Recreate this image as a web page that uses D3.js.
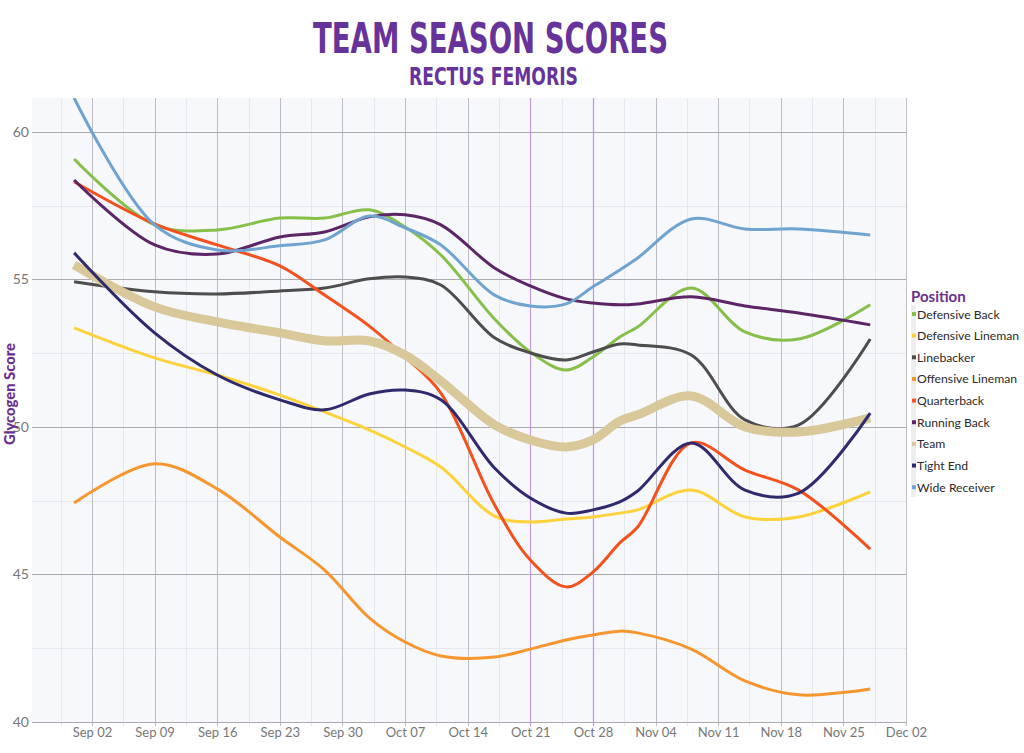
<!DOCTYPE html>
<html>
<head>
<meta charset="utf-8">
<script src="https://cdn.jsdelivr.net/npm/d3@7"></script>
<style>
  html, body { margin: 0; padding: 0; background: #ffffff; }
  svg { display: block; }
</style>
</head>
<body>
<svg id="chart" width="1024" height="753"></svg>
<script>
// ---------------- DATA ----------------
const dates = ["2024-08-31","2024-09-09","2024-09-16","2024-09-23","2024-09-28","2024-10-03",
  "2024-10-07","2024-10-11","2024-10-17","2024-10-21","2024-10-25","2024-10-28","2024-10-31",
  "2024-11-02","2024-11-08","2024-11-14","2024-11-20","2024-11-28"];

const positions = ["Defensive Back","Defensive Lineman","Linebacker","Offensive Lineman",
  "Quarterback","Running Back","Team","Tight End","Wide Receiver"];

const defensiveBack     = [59.08,56.85,56.68,57.08,57.08,57.36,56.78,55.83,53.66,52.54,51.93,52.37,53.05,53.39,54.71,53.22,52.98,54.14];
const defensiveLineman  = [53.36,52.34,51.76,51.08,50.51,49.90,49.32,48.64,46.98,46.78,46.88,46.95,47.08,47.19,47.86,46.95,46.95,47.80];
const linebacker        = [54.92,54.58,54.51,54.61,54.71,55.02,55.08,54.81,53.02,52.51,52.27,52.54,52.81,52.78,52.44,50.24,50.07,52.98];
const offensiveLineman  = [47.42,48.75,47.90,46.27,45.15,43.53,42.71,42.24,42.20,42.47,42.78,42.95,43.08,43.02,42.47,41.39,40.92,41.12];
const quarterback       = [58.31,56.88,56.17,55.46,54.47,53.42,52.37,51.15,47.36,45.49,44.58,45.08,46.07,46.61,49.46,48.54,47.86,45.86];
const runningBack       = [58.37,56.17,55.86,56.44,56.61,57.12,57.19,56.85,55.39,54.78,54.34,54.20,54.14,54.17,54.41,54.10,53.86,53.46];
const team              = [55.49,54.07,53.56,53.19,52.92,52.92,52.44,51.56,50.07,49.56,49.32,49.56,50.20,50.41,51.05,50.00,49.83,50.31];
const tightEnd          = [55.90,53.19,51.76,50.92,50.58,51.12,51.25,50.92,48.61,47.59,47.08,47.19,47.46,47.83,49.46,47.86,47.76,50.47];
const wideReceiver      = [61.15,56.85,56.00,56.14,56.34,57.15,56.75,56.17,54.47,54.10,54.17,54.75,55.32,55.73,57.05,56.71,56.71,56.51];

const seriesValues = [defensiveBack, defensiveLineman, linebacker, offensiveLineman,
  quarterback, runningBack, team, tightEnd, wideReceiver];

const colors = ["#86c04a","#fdd23a","#4d4d4d","#f7962f","#f4511e","#5b2566","#d9c89a","#2f2a6d","#6fa3d0"];

const yTicks = [40, 45, 50, 55, 60];
const xTickDates = ["2024-09-02","2024-09-09","2024-09-16","2024-09-23","2024-09-30","2024-10-07",
  "2024-10-14","2024-10-21","2024-10-28","2024-11-04","2024-11-11","2024-11-18","2024-11-25","2024-12-02"];
const markerDates = ["2024-10-21","2024-10-28"];

// ---------------- LAYOUT ----------------
const svg = d3.select("#chart");
const plot = { left: 32, right: 906, top: 98, bottom: 722 };
const parse = s => new Date(s + "T00:00:00Z");
const DAY = 86400000;

const x = d3.scaleUtc()
  .domain([new Date(parse("2024-09-02").getTime() - 6.708 * DAY), parse("2024-12-02")])
  .range([plot.left, plot.right]);
const y = d3.scaleLinear().domain([40, 61.15]).range([plot.bottom, plot.top]);

// plot background
svg.append("rect")
  .attr("x", plot.left).attr("y", plot.top)
  .attr("width", plot.right - plot.left).attr("height", plot.bottom - plot.top)
  .attr("fill", "#f6f8fc");

const grid = svg.append("g");

// minor vertical gridlines (half weeks)
const minorX = xTickDates.map(d => new Date(parse(d).getTime() - 3.5 * DAY));
grid.selectAll("line.vminor").data(minorX).join("line")
  .attr("x1", d => Math.round(x(d)) + 0.5).attr("x2", d => Math.round(x(d)) + 0.5)
  .attr("y1", plot.top).attr("y2", plot.bottom + 4)
  .attr("stroke", "#e6e8ee").attr("stroke-width", 1);

// minor horizontal gridlines
const minorY = [42.5, 47.5, 52.5, 57.5];
grid.selectAll("line.hminor").data(minorY).join("line")
  .attr("x1", plot.left).attr("x2", plot.right)
  .attr("y1", d => Math.round(y(d)) + 0.5).attr("y2", d => Math.round(y(d)) + 0.5)
  .attr("stroke", "#e6e8ee").attr("stroke-width", 1);

// major vertical gridlines
grid.selectAll("line.vmajor").data(xTickDates.map(parse)).join("line")
  .attr("x1", d => Math.round(x(d)) + 0.5).attr("x2", d => Math.round(x(d)) + 0.5)
  .attr("y1", plot.top).attr("y2", plot.bottom + 4)
  .attr("stroke", "#bdbdc3").attr("stroke-width", 1);

// major horizontal gridlines
grid.selectAll("line.hmajor").data(yTicks).join("line")
  .attr("x1", plot.left).attr("x2", plot.right)
  .attr("y1", d => Math.round(y(d)) + 0.5).attr("y2", d => Math.round(y(d)) + 0.5)
  .attr("stroke", "#a9a9ae").attr("stroke-width", 1);

// purple marker lines
grid.selectAll("line.mark").data(markerDates.map(parse)).join("line")
  .attr("x1", d => Math.round(x(d)) + 0.5).attr("x2", d => Math.round(x(d)) + 0.5)
  .attr("y1", plot.top).attr("y2", plot.bottom + 4)
  .attr("stroke", "#c98cf2").attr("stroke-width", 1.2)
  .attr("opacity", (d, i) => i === 0 ? 0.75 : 1);

// axes labels
const xAxis = d3.axisBottom(x).tickValues(xTickDates.map(parse))
  .tickFormat(d3.utcFormat("%b %d")).tickSize(0).tickPadding(6);
const gx = svg.append("g").attr("transform", `translate(0,${plot.bottom})`).call(xAxis);
gx.select(".domain").remove();
gx.selectAll("text").attr("font-family", "Lato, 'Open Sans', sans-serif")
  .attr("font-size", 13).attr("fill", "#777777");

const yAxis = d3.axisLeft(y).tickValues(yTicks).tickSize(0).tickPadding(3);
const gy = svg.append("g").attr("transform", `translate(${plot.left},0)`).call(yAxis);
gy.select(".domain").remove();
gy.selectAll("text").attr("font-family", "Lato, 'Open Sans', sans-serif")
  .attr("font-size", 14).attr("fill", "#777777");

// clip
svg.append("clipPath").attr("id", "clip").append("rect")
  .attr("x", plot.left).attr("y", plot.top)
  .attr("width", plot.right - plot.left).attr("height", plot.bottom - plot.top);

// lines
const line = d3.line()
  .x((d, i) => x(parse(dates[i])))
  .y(d => y(d))
  .curve(d3.curveCatmullRom.alpha(0.5));

const lines = svg.append("g").attr("clip-path", "url(#clip)");
lines.selectAll("path").data(seriesValues).join("path")
  .attr("d", d => line(d))
  .attr("fill", "none")
  .attr("stroke", (d, i) => colors[i])
  .attr("stroke-width", (d, i) => positions[i] === "Team" ? 9 : 3)
  .attr("stroke-linejoin", "round");

// titles
svg.append("text")
  .attr("x", 313).attr("y", 52.5)
  .attr("textLength", 355).attr("lengthAdjust", "spacingAndGlyphs")
  .attr("font-family", "'DejaVu Sans', sans-serif").attr("font-weight", "bold")
  .attr("font-size", 43).attr("fill", "#66339a")
  .text("TEAM SEASON SCORES");

svg.append("text")
  .attr("x", 409).attr("y", 85)
  .attr("textLength", 169).attr("lengthAdjust", "spacingAndGlyphs")
  .attr("font-family", "'DejaVu Sans', sans-serif").attr("font-weight", "bold")
  .attr("font-size", 24).attr("fill", "#66339a")
  .text("RECTUS FEMORIS");

// y axis title
svg.append("text")
  .attr("transform", "translate(15,394) rotate(-90)")
  .attr("text-anchor", "middle")
  .attr("textLength", 102).attr("lengthAdjust", "spacingAndGlyphs")
  .attr("font-family", "Lato, sans-serif").attr("font-weight", "900")
  .attr("font-size", 15).attr("fill", "#6b2f8f")
  .text("Glycogen Score");

// legend
const legend = svg.append("g");
legend.append("text")
  .attr("x", 911).attr("y", 302)
  .attr("font-family", "Lato, sans-serif").attr("font-weight", "bold")
  .attr("font-size", 15).attr("fill", "#6b2f8f")
  .text("Position");
legend.append("rect")
  .attr("x", 911).attr("y", 305).attr("width", 5).attr("height", 192)
  .attr("fill", "#eeeeee");
const items = legend.selectAll("g.item").data(positions).join("g")
  .attr("transform", (d, i) => `translate(0,${314 + i * 21.65})`);
items.append("rect")
  .attr("x", 912).attr("y", -2).attr("width", 4).attr("height", 4)
  .attr("fill", (d, i) => colors[i]);
items.append("text")
  .attr("x", 917).attr("y", 4.5)
  .attr("font-family", "Lato, sans-serif").attr("font-size", 12.2)
  .attr("fill", "#2a2a2a")
  .text(d => d);
</script>
</body>
</html>
